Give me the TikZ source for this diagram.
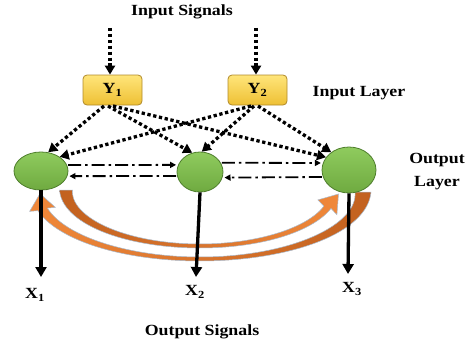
\documentclass[tikz,border=0pt]{standalone}
\usepackage{fontspec}
\setmainfont{Liberation Serif}[FakeStretch=1.15]
\usetikzlibrary{arrows.meta,shapes.geometric,calc}
\definecolor{boxtop}{HTML}{FFE57A}
\definecolor{boxbot}{HTML}{EEC034}
\definecolor{boxedge}{HTML}{B08A2A}
\definecolor{neutop}{HTML}{8FCB5E}
\definecolor{neubot}{HTML}{6FAA40}
\definecolor{neuedge}{HTML}{4E7E2C}
\definecolor{orlight}{HTML}{F0883A}
\definecolor{ordark}{HTML}{C2611F}
\definecolor{oredge}{HTML}{A8BACE}
\begin{document}
\begin{tikzpicture}[x=1pt,y=-1pt,
  lbl/.style={font=\fontsize{15.5}{18}\selectfont\bfseries, inner sep=0pt},
  ybox/.style={draw=boxedge, line width=0.8pt, rounded corners=4pt,
    top color=boxtop, bottom color=boxbot, minimum width=59pt, minimum height=30pt,
    inner sep=0pt, font=\fontsize{15.5}{18}\selectfont\bfseries},
  neuron/.style={ellipse, draw=neuedge, line width=0.8pt, top color=neutop,
    bottom color=neubot, inner sep=0pt},
  dotarrow/.style={line width=3.3pt, dash pattern=on 3.3pt off 2.6pt,
    -{Triangle[length=9pt,width=10pt]}},
  dd/.style={line width=1.8pt, dash pattern=on 13pt off 4pt on 2.5pt off 4pt,
    -{Triangle[length=6pt,width=6pt]}, shorten >=2pt, shorten <=1pt},
  outarrow/.style={line width=3.3pt, -{Triangle[length=10pt,width=11pt]}},
  declare function={wa(\t)=4+(10+2*cos(\t))*(1-sin(\t));
                    wb(\t)=4+(7-2*cos(\t))*(1-sin(\t));}
]
\useasboundingbox (0,0) rectangle (473,345);

% orange curved arrows
\path[left color=orlight, right color=ordark, draw=oredge, line width=0.5pt]
  plot[domain=0:165, samples=60, variable=\t]
    ({200+(163+wa(\t)/2)*cos(\t)},{192+(67+wa(\t)/2)*sin(\t)})
  -- (29.6,211.4) -- (40,193.6) -- (55.4,207.4)
  -- plot[domain=165:0, samples=60, variable=\t]
    ({200+(163-wa(\t)/2)*cos(\t)},{192+(67-wa(\t)/2)*sin(\t)})
  -- cycle;
\path[left color=ordark, right color=orlight, draw=oredge, line width=0.5pt]
  plot[domain=180:18, samples=60, variable=\t]
    ({200+(134+wb(\t)/2)*cos(\t)},{190+(56+wb(\t)/2)*sin(\t)})
  -- (336.9,214.7) -- (338.5,194) -- (317.9,199.9)
  -- plot[domain=18:180, samples=60, variable=\t]
    ({200+(134-wb(\t)/2)*cos(\t)},{190+(56-wb(\t)/2)*sin(\t)})
  -- cycle;

% texts
\node[lbl] (tin) at (182,12) {Input Signals};
\node[lbl] (tinl) at (359,93) {Input Layer};
\node[lbl, align=center, font=\fontsize{15.5}{23}\selectfont\bfseries] (toutl) at (437,172) {Output\\Layer};
\node[lbl] (tout) at (202,332) {Output Signals};

% input boxes
\node[ybox] (Y1) at (112.5,90) {Y\textsubscript{1}};
\node[ybox] (Y2) at (257.5,90) {Y\textsubscript{2}};

% neurons
\node[neuron, minimum width=54pt, minimum height=38pt] (o1) at (41,171) {};
\node[neuron, minimum width=46pt, minimum height=40pt] (o2) at (200,172) {};
\node[neuron, minimum width=54pt, minimum height=46pt] (o3) at (349,170) {};

% input signal arrows
\coordinate (in1) at (110,28);
\coordinate (in2) at (256,28);
\draw[dotarrow] (in1) -- (in1 |- Y1.north);
\draw[dotarrow] (in2) -- (in2 |- Y2.north);

% dotted connections
\coordinate (y1a) at (104,106);
\coordinate (y1b) at (108,106);
\coordinate (y1c) at (113,106);
\coordinate (y2a) at (251,106);
\coordinate (y2b) at (254,106);
\coordinate (y2c) at (258,106);
\draw[dotarrow] (y1a) -- (o1.69);
\draw[dotarrow] (y1b) -- (o2.112);
\draw[dotarrow] (y1c) -- (o3.151);
\draw[dotarrow] (y2a) -- (o1.37);
\draw[dotarrow] (y2b) -- (o2.85);
\draw[dotarrow] (y2c) -- (o3.135);

% lateral dash-dot connections
\draw[dd] (o1.13) -- (o2.162);
\draw[dd] (o2.190) -- (o1.-11);
\draw[dd] (o2.24) -- (o3.165);
\draw[dd] (o3.195) -- (o2.-14);

% outputs
\coordinate (x1e) at (41,277);
\coordinate (x2e) at (196,277);
\coordinate (x3e) at (348,274);
\draw[outarrow] (o1.south) -- (x1e);
\draw[outarrow] (o2.south) -- (x2e);
\draw[outarrow] (o3.south) -- (x3e);
\node[lbl] (X1) at (35,295) {X\textsubscript{1}};
\node[lbl] (X2) at (195,292) {X\textsubscript{2}};
\node[lbl] (X3) at (352,289) {X\textsubscript{3}};
\end{tikzpicture}
\end{document}
